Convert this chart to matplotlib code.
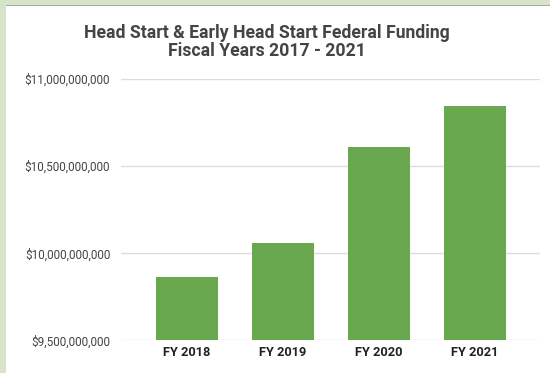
import matplotlib
matplotlib.use("Agg")
import matplotlib.pyplot as plt
from matplotlib.patches import Rectangle
from matplotlib.ticker import FuncFormatter

# data
years = ["FY 2018", "FY 2019", "FY 2020", "FY 2021"]
funding = [9.862e9, 10.060e9, 10.608e9, 10.847e9]
yticks = [9.5e9, 10.0e9, 10.5e9, 11.0e9]

bar_col = "#6aa84f"
grid_col = "#dcdcdc"

plt.rcParams["font.family"] = ["Roboto", "DejaVu Sans"]

fig = plt.figure(figsize=(5.5, 3.73), dpi=100)
fig.patch.set_facecolor("#d6e4c9")
# white card with a thin grey top edge
fig.patches.append(Rectangle((6 / 550, 0), 1, 1 - 5 / 373, transform=fig.transFigure,
                             facecolor="white", edgecolor="none", zorder=-2))
fig.patches.append(Rectangle((6 / 550, 1 - 5.8 / 373), 1, 1.2 / 373, transform=fig.transFigure,
                             facecolor="#a8a8a8", edgecolor="none", zorder=-1))

ax = fig.add_axes([0.2195, 0.0877, 0.7623, 0.7005])
ax.set_facecolor("none")

x = range(len(years))
ax.bar(x, funding, width=0.652, color=bar_col, zorder=3)

ax.set_ylim(9.5e9, 11.0e9)
ax.set_xlim(-0.69, 3.675)
ax.set_yticks(yticks)
ax.yaxis.set_major_formatter(FuncFormatter(lambda v, p: "${:,.0f}".format(v)))
ax.set_xticks(list(x))
ax.set_xticklabels(years, fontweight="bold", color="#222222", fontsize=9.2)
ax.tick_params(axis="y", length=0, pad=7.5, labelsize=8.5, labelcolor="#444444")
ax.tick_params(axis="x", length=0, pad=4)
ax.grid(axis="y", color=grid_col, linewidth=1, zorder=0)
for s in ax.spines.values():
    s.set_visible(False)

fig.text(0.485, 1 - 42 / 373, "Head Start & Early Head Start Federal Funding\nFiscal Years 2017 - 2021",
         ha="center", va="center", fontsize=12.7, fontweight="bold", color="#444444",
         linespacing=0.98)

fig.savefig("out.png", dpi=100, facecolor=fig.get_facecolor())
